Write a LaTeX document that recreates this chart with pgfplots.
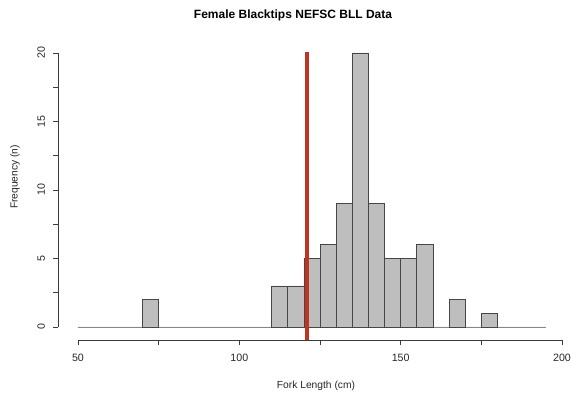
\documentclass[border=0pt]{standalone}
\usepackage{pgfplots}
\pgfplotsset{compat=1.18}
\usepackage{fontspec}
\setmainfont{Liberation Sans}
\definecolor{barfill}{RGB}{190,190,190}
\definecolor{baredge}{RGB}{70,70,70}
\definecolor{cutred}{RGB}{192,52,38}
\definecolor{axisgray}{RGB}{60,60,60}
\begin{document}
\begin{tikzpicture}
\path[use as bounding box] (-58.5pt,-53.25pt) rectangle (369.75pt,245.25pt);
\begin{axis}[
  at={(0,0)}, anchor=south west,
  scale only axis, width=363pt, height=205.5pt,
  xmin=50, xmax=200, ymin=0, ymax=20,
  clip=false,
  axis x line=bottom, axis y line=left,
  axis x line shift=9.75pt, axis y line shift=15pt,
  axis line style={-, draw=axisgray, line width=0.5pt},
  tick align=outside,
  major tick length=3.5pt, minor tick length=3.5pt,
  tick style={draw=axisgray, line width=0.5pt},
  xtick={50,100,150,200}, minor xtick={75,125,175},
  ytick={0,5,10,15,20}, minor ytick={2.5,7.5,12.5,17.5},
  tick label style={font=\fontsize{8}{9}\selectfont, text=black!85},
  xticklabel style={inner sep=1pt, yshift=-6pt},
  yticklabel style={rotate=90, anchor=south, inner sep=1pt, yshift=5pt},
  /pgf/number format/assume math mode=true,
]
% histogram counts, 5 cm bins from 50 to 195
\addplot[ybar interval, fill=barfill, draw=baredge, line width=0.5pt]
  coordinates {
  (50,0) (55,0) (60,0) (65,0) (70,2) (75,0) (80,0) (85,0) (90,0) (95,0)
  (100,0) (105,0) (110,3) (115,3) (120,5) (125,6) (130,9) (135,20) (140,9)
  (145,5) (150,5) (155,6) (160,0) (165,2) (170,0) (175,1) (180,0) (185,0)
  (190,0) (195,0)
  };
% reference length
\addplot[cutred, line width=2.6pt] coordinates {(121,-0.95) (121,20.1)};
\end{axis}
\node[font=\bfseries\fontsize{9}{11}\selectfont] at (161.25pt,234pt) {Female Blacktips NEFSC BLL Data};
\node[font=\fontsize{7.7}{9}\selectfont, text=black!85] at (178.5pt,-44.25pt) {Fork Length (cm)};
\node[font=\fontsize{7.7}{9}\selectfont, text=black!85, rotate=90] at (-47.25pt,112.5pt) {Frequency (n)};
\end{tikzpicture}
\end{document}
